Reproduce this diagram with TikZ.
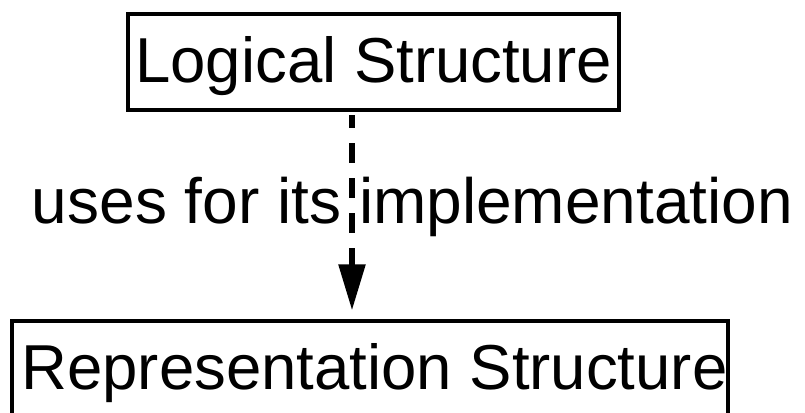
\documentclass[tikz,border=0pt]{standalone}
\usepackage{fontspec}
\setmainfont{Liberation Sans}
\usetikzlibrary{arrows.meta}
\begin{document}
\begin{tikzpicture}[x=1pt,y=-1pt,
  bigtext/.style={font=\fontsize{63.5pt}{70pt}\selectfont},
  structbox/.style={bigtext,draw,line width=3.3pt,inner sep=0pt,
    text height=50pt,text depth=10pt,minimum height=96pt},
  dep/.style={dash pattern=on 20pt off 15pt,dash phase=7pt,line width=5.5pt,
    -{Triangle[length=46pt,width=26pt]},shorten <=3.5pt,shorten >=9pt}]
  \useasboundingbox (0,0) rectangle (805,412);
  \clip (0,0) rectangle (805,412);
  \node[structbox,minimum width=491pt] (logical) at (373.5,62) {Logical Structure};
  \node[structbox,minimum width=716pt] (repr) at (370,369) {\hspace*{9pt}Representation Structure};
  \coordinate (axis) at (352,0);
  \draw[dep] (logical.south -| axis) -- (repr.north -| axis);
  \node[bigtext,font=\fontsize{64pt}{70pt}\selectfont,anchor=base,inner sep=0pt] (uses) at (412.5,223) {uses for its implementation};
\end{tikzpicture}
\end{document}
